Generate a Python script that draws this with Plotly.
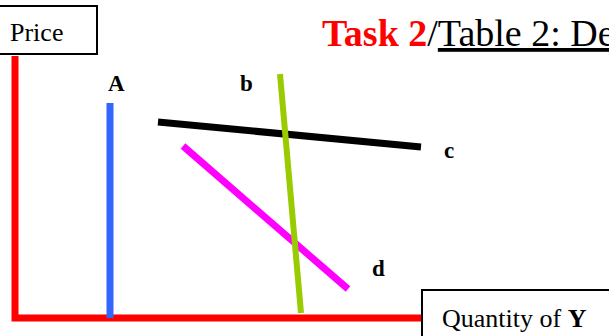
import plotly.graph_objects as go

# Diagram drawn in pixel-like coordinates (x right, y down)
axis_x = [15, 15, 430]
axis_y = [56, 318, 318]

curve_A_x = [110, 110]
curve_A_y = [103, 318]
curve_b_x = [280, 301]
curve_b_y = [74, 313]
curve_c_x = [158, 421]
curve_c_y = [122, 147]
curve_d_x = [183, 348]
curve_d_y = [146, 289]

label_names = ["A", "b", "c", "d"]
label_x = [106, 238, 442, 370]
label_y = [83, 83, 150, 268]

SERIF = "Liberation Serif, Times New Roman, serif"

fig = go.Figure()

fig.add_trace(go.Scatter(x=axis_x, y=axis_y, mode="lines",
                         line=dict(color="#ff0000", width=7)))
fig.add_trace(go.Scatter(x=curve_A_x, y=curve_A_y, mode="lines",
                         line=dict(color="#3366ff", width=7)))
fig.add_trace(go.Scatter(x=curve_c_x, y=curve_c_y, mode="lines",
                         line=dict(color="#000000", width=7)))
fig.add_trace(go.Scatter(x=curve_d_x, y=curve_d_y, mode="lines",
                         line=dict(color="#ff00ff", width=7)))
fig.add_trace(go.Scatter(x=curve_b_x, y=curve_b_y, mode="lines",
                         line=dict(color="#99cc00", width=6)))

# boxes
fig.add_shape(type="rect", x0=-5, x1=97, y0=6, y1=54,
              line=dict(color="black", width=2), fillcolor="white", layer="above")
fig.add_shape(type="rect", x0=422, x1=620, y0=290, y1=345,
              line=dict(color="black", width=2), fillcolor="white", layer="above")

annotations = []
for name, lx, ly in zip(label_names, label_x, label_y):
    annotations.append(dict(x=lx, y=ly, text="<b>" + name + "</b>", showarrow=False,
                            xanchor="left", yanchor="middle",
                            font=dict(family=SERIF, size=23, color="black")))
annotations.append(dict(x=8, y=32, text="Price", showarrow=False,
                        xanchor="left", yanchor="middle",
                        font=dict(family=SERIF, size=26, color="black")))
annotations.append(dict(x=440, y=318, text="Quantity of <b>Y</b>", showarrow=False,
                        xanchor="left", yanchor="middle",
                        font=dict(family=SERIF, size=26, color="black")))
annotations.append(dict(x=320, y=33,
                        text="<b><span style='color:#ff0000'>Task 2</span></b>/<u>Table 2: De</u>",
                        showarrow=False, xanchor="left", yanchor="middle",
                        font=dict(family=SERIF, size=38, color="black")))

fig.update_layout(
    width=609, height=336,
    margin=dict(l=0, r=0, t=0, b=0),
    paper_bgcolor="white", plot_bgcolor="white",
    showlegend=False,
    xaxis=dict(range=[0, 609], visible=False, fixedrange=True),
    yaxis=dict(range=[336, 0], visible=False, fixedrange=True),
    annotations=annotations,
)

fig.write_html("out.html", config=dict(displayModeBar=False),
               post_script="document.body.style.margin='0';document.body.style.overflow='hidden';")
